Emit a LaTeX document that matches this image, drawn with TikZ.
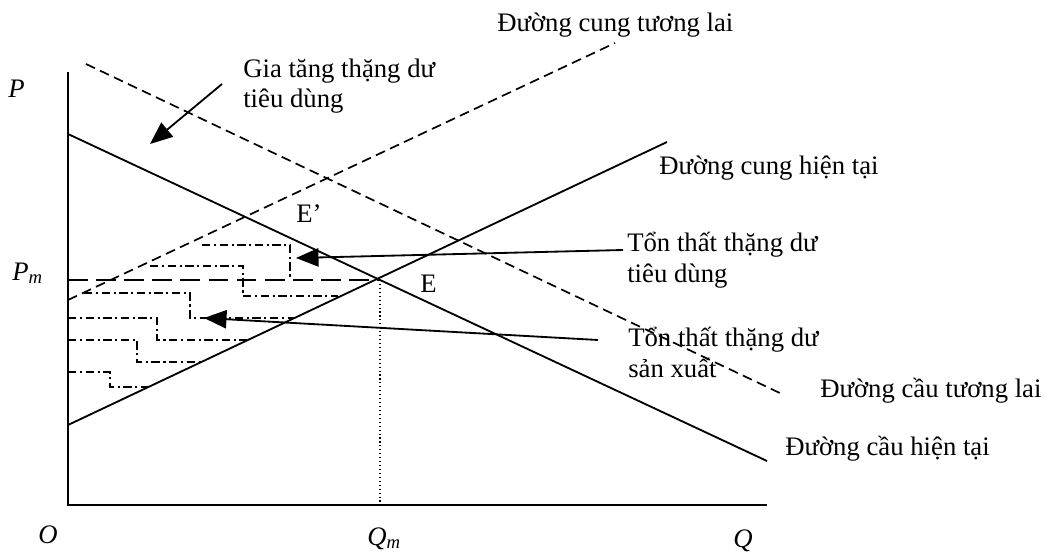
\documentclass[tikz,border=0pt]{standalone}
\usepackage{fontspec}
\setmainfont{Liberation Serif}
\usetikzlibrary{arrows.meta}
\tikzset{
	axisline/.style={line width=1.5pt},
	curve/.style={line width=1.3pt},
	futurecurve/.style={line width=1.2pt, dash pattern=on 7pt off 4pt},
	pmline/.style={line width=1.3pt, dash pattern=on 14pt off 6pt},
	stair/.style={line width=1.2pt, dash pattern=on 6pt off 2.5pt on 1.5pt off 2.5pt},
	guide/.style={line width=0.8pt, dotted},
	pointer/.style={line width=1.3pt, -{Triangle[length=16pt,width=13pt]}},
	lbl/.style={anchor=base west, inner sep=0pt, font=\fontsize{19}{21.5}\selectfont, align=left},
}

\begin{document}
\begin{tikzpicture}[x=0.025cm, y=-0.025cm]
	\useasboundingbox (0,0) rectangle (1045,557);
	% axes
	\coordinate (O) at (68,505);
	\coordinate (Ptop) at (68,72);
	\coordinate (Qend) at (767,505);
	\draw[axisline] (Ptop) -- (O) -- (Qend);
	% curves
	\coordinate (Dnow1) at (68,134);
	\coordinate (Dnow2) at (767,461);
	\coordinate (Snow1) at (68,425);
	\coordinate (Snow2) at (667,142);
	\coordinate (Dfut1) at (86,64);
	\coordinate (Dfut2) at (784,395);
	\coordinate (Sfut1) at (68,300);
	\coordinate (Sfut2) at (615,43);
	\draw[curve] (Dnow1) -- (Dnow2);
	\draw[curve] (Snow1) -- (Snow2);
	\draw[futurecurve] (Dfut1) -- (Dfut2);
	\draw[futurecurve] (Sfut1) -- (Sfut2);
	% equilibrium
	\coordinate (E) at (380,280);
	\coordinate (Pm) at (68,280);
	\coordinate (Qm) at (380,505);
	\draw[pmline] (Pm) -- (E);
	\draw[guide] (E) -- (Qm);
	% staircases
	\draw[stair] (202,245) -- (290,245) -- (290,280);
	\draw[stair] (150,266) -- (243,266) -- (243,296) -- (338,296);
	\draw[stair] (84,293) -- (190,293) -- (190,318) -- (294,318);
	\draw[stair] (68,318) -- (157,318) -- (157,340) -- (247,340);
	\draw[stair] (68,340) -- (137,340) -- (137,362) -- (202,362);
	\draw[stair] (68,372) -- (110,372) -- (110,387) -- (149,387);
	% labels (two-line labels sit on their last baseline)
	\node[lbl] (sfut) at (497,32) {Đường cung tương lai};
	\node[lbl] (gain) at (243,108) {Gia tăng thặng dư\\tiêu dùng};
	\node[lbl] (snow) at (659,175) {Đường cung hiện tại};
	\node[lbl] (losscons) at (627,282) {Tổn thất thặng dư\\tiêu dùng};
	\node[lbl] (lossprod) at (628,377) {Tổn thất thặng dư\\sản xuất};
	\node[lbl] (dfut) at (820,397) {Đường cầu tương lai};
	\node[lbl] (dnow) at (785,455) {Đường cầu hiện tại};
	\node[lbl] (Eprime) at (296,223) {E’};
	\node[lbl] (Elbl) at (420,292) {E};
	\node[lbl] (Plbl) at (8,98) {\textit{P}};
	\node[lbl] (Pmlbl) at (12,280) {\textit{P\textsubscript{m}}};
	\node[lbl] (Olbl) at (38,543) {\textit{O}};
	\node[lbl] (Qmlbl) at (367,545) {\textit{Q\textsubscript{m}}};
	\node[lbl] (Qlbl) at (733,547) {\textit{Q}};
	% pointers
	\coordinate (gainTail) at (222,84);
	\coordinate (gainTip) at (150,144);
	\coordinate (consTail) at (623,250);
	\coordinate (consTip) at (296,258);
	\coordinate (prodTail) at (598,340);
	\coordinate (prodTip) at (204,318);
	\draw[pointer] (gainTail) -- (gainTip);
	\draw[pointer] (consTail) -- (consTip);
	\draw[pointer] (prodTail) -- (prodTip);
\end{tikzpicture}
\end{document}
